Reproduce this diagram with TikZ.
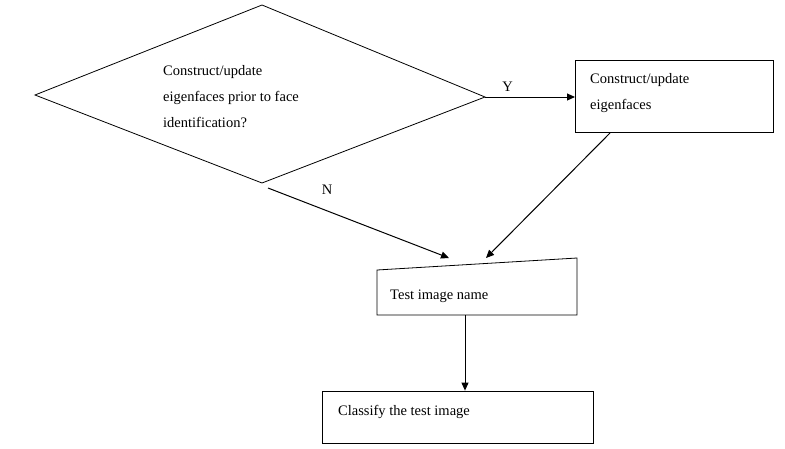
\documentclass[tikz,border=0pt]{standalone}
\usepackage{fontspec}
\setmainfont{Liberation Serif}
\usetikzlibrary{arrows.meta}
\begin{document}
\begin{tikzpicture}[x=1pt,y=-1pt,font=\fontsize{14.5}{26}\selectfont,
  shp/.style={draw,line width=0.8pt},
  conn/.style={draw,line width=1pt,-{Triangle[length=8pt,width=7pt]}},
  lbl/.style={inner sep=0pt,anchor=west,align=left}]
\useasboundingbox (0,0) rectangle (785,448);
\draw[shp] (35,95) coordinate (dl) -- (262,5) -- (485,97) coordinate (dr) -- (262,183) coordinate (db) -- cycle;
\node[lbl] (dt) at (163,97) {Construct/update\\eigenfaces prior to face\\identification?};
\node[shp,minimum width=198pt,minimum height=72pt] (b1) at (674,96) {};
\node[lbl,font=\fontsize{14.5}{26}\selectfont] (b1t) at (590,93) {Construct/update\\eigenfaces};
\draw[shp] (377,270) coordinate (tl) -- (577,258) -- (577,315) -- (377,315) -- cycle;
\coordinate (tt) at (465,315);
\node[lbl] (t1) at (390,296) {Test image name};
\node[shp,minimum width=271pt,minimum height=52pt] (c) at (457.5,417) {};
\node[lbl] (ct) at (338,412) {Classify the test image};
\coordinate (bt) at (575,97);
\coordinate (ns) at (268,188);
\coordinate (ne) at (449,258);
\coordinate (ys) at (610,133);
\coordinate (ye) at (486,258);
\draw[conn] (dr) -- node[above=2pt,pos=0.25]{Y} (bt);
\draw[conn] (ns) -- (ne);
\node (N) at (327,190) {N};
\draw[conn] (ys) -- (ye);
\draw[conn] (tt) -- (c.north -| tt);
\end{tikzpicture}
\end{document}
